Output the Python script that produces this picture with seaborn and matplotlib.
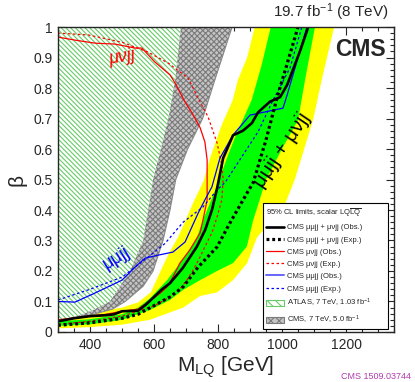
import matplotlib
matplotlib.use("Agg")
import matplotlib.pyplot as plt
import matplotlib.patches as mpatches
from matplotlib.lines import Line2D
from matplotlib.ticker import MultipleLocator, FuncFormatter
import seaborn as sns

# combined mumujj + munujj limits (M_LQ in GeV, beta)
obs_m = [300, 350, 400, 450, 475, 500, 550, 575, 600, 625, 650, 690, 734, 760, 781, 797,
         816, 847, 878, 906, 925, 962, 994, 1016, 1056, 1082]
obs_b = [0.035, 0.045, 0.052, 0.055, 0.058, 0.068, 0.07, 0.09, 0.115, 0.14, 0.16, 0.21, 0.28,
         0.335, 0.4, 0.47, 0.57, 0.645, 0.66, 0.685, 0.72, 0.755, 0.77, 0.81, 0.92, 1.0]
exp_m = [300, 400, 500, 550, 587, 650, 691, 738, 797, 837, 891, 910, 950, 985, 1050]
exp_b = [0.022, 0.03, 0.045, 0.058, 0.079, 0.115, 0.148, 0.213, 0.279, 0.357, 0.456, 0.49,
         0.63, 0.77, 1.0]

# munujj only
munu_obs_m = [300, 353, 416, 478, 541, 562, 603, 650, 666, 697, 719, 744, 759, 766, 766, 753,
              744, 712, 681, 659, 641, 620, 600, 550, 500, 450, 400, 300]
munu_obs_b = [0.967, 0.957, 0.947, 0.944, 0.931, 0.931, 0.885, 0.843, 0.816, 0.754, 0.718, 0.67,
              0.623, 0.564, 0.433, 0.367, 0.325, 0.269, 0.226, 0.18, 0.148, 0.128, 0.112, 0.075,
              0.068, 0.058, 0.052, 0.04]
munu_exp_m = [300, 394, 500, 581, 644, 706, 738, 769, 797, 812, 816, 812, 797, 781, 759, 744,
              722, 703, 680, 650, 600, 500, 400, 300]
munu_exp_b = [0.98, 0.974, 0.95, 0.918, 0.882, 0.833, 0.767, 0.705, 0.62, 0.548, 0.5, 0.433,
              0.377, 0.325, 0.28, 0.246, 0.203, 0.17, 0.14, 0.115, 0.085, 0.052, 0.035, 0.025]

# mumujj only
mumu_obs_m = [300, 353, 416, 500, 541, 572, 613, 659, 697, 738, 759, 781, 806, 847, 900, 1003,
              1016, 1050, 1078]
mumu_obs_b = [0.1, 0.098, 0.128, 0.17, 0.213, 0.242, 0.252, 0.262, 0.295, 0.39, 0.433, 0.476,
              0.57, 0.646, 0.711, 0.734, 0.777, 0.9, 1.0]
mumu_exp_m = [300, 400, 500, 587, 634, 691, 753, 797, 822, 884, 925, 969, 1025, 1062]
mumu_exp_b = [0.105, 0.14, 0.18, 0.25, 0.29, 0.36, 0.41, 0.466, 0.49, 0.59, 0.656, 0.754,
              0.866, 1.0]

# expected +-2 sigma band edges
y_lo_m = [300, 400, 500, 550, 590, 625, 650, 675, 703, 722, 755, 775, 812, 846, 862, 891, 915]
y_lo_b = [0.045, 0.062, 0.08, 0.097, 0.13, 0.21, 0.265, 0.31, 0.377, 0.423, 0.495, 0.57, 0.68,
          0.76, 0.826, 0.9, 1.0]
y_hi_m = [300, 400, 500, 587, 691, 744, 797, 847, 891, 922, 1010, 1040, 1097, 1124, 1163]
y_hi_b = [0.012, 0.016, 0.024, 0.04, 0.08, 0.118, 0.13, 0.17, 0.226, 0.31, 0.42, 0.5, 0.695,
          0.826, 1.0]
# expected +-1 sigma band edges
g_lo_m = [300, 400, 500, 550, 587, 641, 672, 703, 734, 753, 775, 800, 828, 850, 875, 905, 935, 965]
g_lo_b = [0.035, 0.042, 0.058, 0.08, 0.11, 0.17, 0.213, 0.259, 0.31, 0.367, 0.423, 0.49, 0.57,
          0.63, 0.69, 0.76, 0.87, 1.0]
g_hi_m = [300, 400, 500, 587, 650, 691, 744, 797, 847, 890, 910, 925, 950, 1000, 1050, 1072, 1103]
g_hi_b = [0.02, 0.025, 0.04, 0.072, 0.105, 0.138, 0.17, 0.2, 0.226, 0.28, 0.367, 0.416, 0.5,
          0.6, 0.695, 0.826, 1.0]

# previous 7 TeV exclusions (boundary M vs beta)
atlas_b = [0.04, 0.05, 0.07, 0.1, 0.15, 0.2, 0.3, 0.5, 0.695, 0.826, 1.0]
atlas_m = [300, 353, 406, 462, 494, 525, 566, 597, 644, 666, 684]
cms7_b = [0.035, 0.045, 0.055, 0.075, 0.1, 0.15, 0.2, 0.3, 0.4, 0.5, 0.6, 0.7, 0.826, 1.0]
cms7_m = [300, 350, 400, 470, 510, 566, 597, 628, 650, 668, 705, 752, 790, 844]

sns.set_style("ticks")
plt.rcParams["font.family"] = ["Liberation Sans", "DejaVu Sans"]
plt.rcParams["mathtext.fontset"] = "custom"
plt.rcParams["mathtext.rm"] = "Liberation Sans"
plt.rcParams["mathtext.it"] = "Liberation Sans:italic"
plt.rcParams["mathtext.bf"] = "Liberation Sans:bold"
plt.rcParams["hatch.linewidth"] = 0.8

atlas_hatch = "\\" * 7
cms7_hatch = "x" * 6

fig = plt.figure(figsize=(4.15, 3.82), dpi=100)
ax = fig.add_axes([0.1398, 0.1309, 0.8096, 0.7984])

# bands
ax.fill(y_lo_m + y_hi_m[::-1], y_lo_b + y_hi_b[::-1], color="#ffff00", lw=0, zorder=1)
ax.fill(g_lo_m + g_hi_m[::-1], g_lo_b + g_hi_b[::-1], color="#00ff00", lw=0, zorder=1.1)

# old exclusions
ax.fill_betweenx(cms7_b, 300, cms7_m, facecolor="#c4c4c4", edgecolor="#7a7a7a",
                 hatch=cms7_hatch, lw=0, zorder=1.5)
ax.plot(cms7_m, cms7_b, color="#8a8a8a", lw=0.8, zorder=1.6)
ax.fill_betweenx(atlas_b, 300, atlas_m, facecolor="white", edgecolor="#66cc66",
                 hatch=atlas_hatch, lw=0, zorder=1.7)

# limit curves
sns.lineplot(x=munu_exp_m, y=munu_exp_b, sort=False, estimator=None, ax=ax,
             color="#ff0000", lw=0.9, linestyle=(0, (2, 2)), zorder=3)
sns.lineplot(x=munu_obs_m, y=munu_obs_b, sort=False, estimator=None, ax=ax,
             color="#ff0000", lw=0.9, zorder=3)
sns.lineplot(x=mumu_exp_m, y=mumu_exp_b, sort=False, estimator=None, ax=ax,
             color="#0000ff", lw=0.9, linestyle=(0, (2, 2)), zorder=3)
sns.lineplot(x=mumu_obs_m, y=mumu_obs_b, sort=False, estimator=None, ax=ax,
             color="#0000ff", lw=0.9, zorder=3)
sns.lineplot(x=exp_m, y=exp_b, sort=False, estimator=None, ax=ax,
             color="black", lw=2.3, linestyle=(0, (0.9, 0.9)), zorder=4)
sns.lineplot(x=obs_m, y=obs_b, sort=False, estimator=None, ax=ax,
             color="black", lw=1.9, zorder=4)

ax.set_xlim(300, 1350)
ax.set_ylim(0, 1)
ax.xaxis.set_major_locator(MultipleLocator(200))
ax.xaxis.set_minor_locator(MultipleLocator(50))
ax.yaxis.set_major_locator(MultipleLocator(0.1))
ax.yaxis.set_minor_locator(MultipleLocator(0.02))
ax.yaxis.set_major_formatter(FuncFormatter(lambda v, p: f"{v:g}"))
ax.tick_params(which="both", direction="in", top=True, right=True, width=0.8,
               labelsize=10, pad=4, zorder=6)
ax.tick_params(which="major", length=6)
ax.tick_params(which="minor", length=3)
for s in ax.spines.values():
    s.set_linewidth(1.0)
    s.set_zorder(6)

ax.set_xlabel(r"M$_{\mathrm{LQ}}$ [GeV]", fontsize=15)
ax.set_ylabel("β", fontsize=15)
ax.xaxis.set_label_coords(0.5, -0.075)
ax.yaxis.set_label_coords(-0.095, 0.5)

ax.text(0.985, 1.012, r"19.7 fb$^{-1}$ (8 TeV)", transform=ax.transAxes,
        ha="right", va="bottom", fontsize=11)
ax.text(0.975, 0.965, "CMS", transform=ax.transAxes, ha="right", va="top",
        fontsize=16.5, fontweight="bold")
ax.text(500, 0.9, "μνjj", color="#ff0000", fontsize=13, style="italic",
        rotation=10, ha="center", va="center", zorder=5)
ax.text(484, 0.243, "μμjj", color="#0000ff", fontsize=13,
        rotation=32, ha="center", va="center", zorder=5)
ax.text(1000, 0.597, "μμjj + μνjj", color="black", fontsize=14.5,
        rotation=56, ha="center", va="center", zorder=5)
fig.text(0.99, 0.003, "CMS 1509.03744", color="#b03cb0", fontsize=6.5,
         ha="right", va="bottom")

handles = [
    Line2D([], [], color="black", lw=1.9),
    Line2D([], [], color="black", lw=2.3, linestyle=(0, (0.9, 0.9))),
    Line2D([], [], color="#ff0000", lw=0.9),
    Line2D([], [], color="#ff0000", lw=0.9, linestyle=(0, (2, 2))),
    Line2D([], [], color="#6666ff", lw=1.4),
    Line2D([], [], color="#0000ff", lw=0.9, linestyle=(0, (2, 2))),
    mpatches.Patch(facecolor="white", edgecolor="#66cc66", hatch="\\" * 4, lw=0.8),
    mpatches.Patch(facecolor="#c4c4c4", edgecolor="#7a7a7a", hatch="xxxx", lw=0.8),
]
labels = [
    "CMS μμjj + μνjj (Obs.)",
    "CMS μμjj + μνjj (Exp.)",
    "CMS μνjj (Obs.)",
    "CMS μνjj (Exp.)",
    "CMS μμjj (Obs.)",
    "CMS μμjj (Exp.)",
    r"ATLAS, 7 TeV, 1.03 fb$^{-1}$",
    r"CMS, 7 TeV, 5.0 fb$^{-1}$",
]
leg = ax.legend(handles, labels, loc="lower left", bbox_to_anchor=(0.61, 0.01, 0.372, 0.4),
                mode="expand", title=r"95% CL limits, scalar LQ$\overline{\mathrm{LQ}}$",
                fontsize=5.5, title_fontsize=5.5, alignment="left", frameon=True,
                fancybox=False, edgecolor="black", framealpha=1, borderpad=0.4,
                labelspacing=0.58, handlelength=2.3, handleheight=0.9, handletextpad=0.5,
                borderaxespad=0)
leg.get_frame().set_linewidth(0.8)
leg.set_zorder(5)

fig.savefig("out.png", dpi=100, facecolor="white")
